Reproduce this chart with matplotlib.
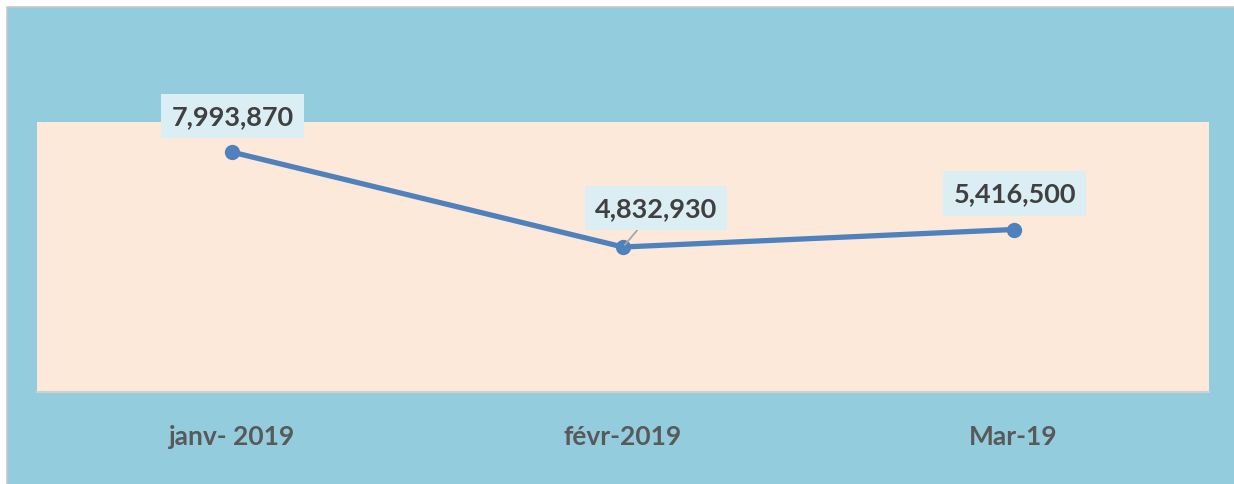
import matplotlib
matplotlib.use("Agg")
import matplotlib.pyplot as plt
from matplotlib.patches import Rectangle
from matplotlib.lines import Line2D

months = ["janv- 2019", "févr-2019", "Mar-19"]
values = [7993870, 4832930, 5416500]
label_offsets = [(0, 36), (33, 39), (1, 36)]   # pixels, label centre relative to point

OUTER = "#93CDDD"
PLOT_BG = "#FDE9D9"
LINE = "#4F81BD"
LABEL_BG = "#DAEEF3"

plt.rcParams["font.family"] = ["Lato", "DejaVu Sans"]

W, H = 1234, 485
fig = plt.figure(figsize=(W / 100, H / 100), dpi=100, facecolor=OUTER)
# white margin on the top and left of the screenshot, with the grey chart border
left, top = 7 / W, 1 - 8 / H
fig.patches.append(Rectangle((0, top), 1, 1 - top, transform=fig.transFigure,
                             facecolor="white", edgecolor="none", zorder=-5))
fig.patches.append(Rectangle((0, 0), left, 1, transform=fig.transFigure,
                             facecolor="white", edgecolor="none", zorder=-5))
fig.lines.append(Line2D([left, left, 1], [0, top, top], transform=fig.transFigure,
                        color="#C8C8C8", lw=1.2, zorder=-4))

ax = fig.add_axes([37 / W, (H - 393) / H, 1172 / W, 270 / H])
ax.set_facecolor(PLOT_BG)
x = list(range(len(months)))
ax.plot(x, values, color=LINE, lw=3.8, marker="o", ms=10, solid_capstyle="round", zorder=3)
ax.set_xlim(-0.5, len(months) - 0.5)
ax.set_ylim(0, 9_000_000)
ax.set_yticks([])
ax.set_xticks(x, labels=months, fontsize=19, fontweight="bold", color="#595959")
ax.tick_params(axis="x", length=0, pad=23)
for s in ["top", "left", "right"]:
    ax.spines[s].set_visible(False)
ax.spines["bottom"].set_color("#D0D0D0")
ax.spines["bottom"].set_linewidth(1.5)

for i, (v, off) in enumerate(zip(values, label_offsets)):
    arrow = None
    if i == 1:
        arrow = dict(arrowstyle="-", color="#A6A6A6", lw=1.3, shrinkA=0, shrinkB=2)
    ax.annotate(f"{v:,}", (i, v), xytext=off, textcoords="offset pixels",
                ha="center", va="center", fontsize=19.5, fontweight="bold", color="#404040",
                bbox=dict(boxstyle="square,pad=0.38", fc=LABEL_BG, ec="none"),
                arrowprops=arrow, zorder=4)

fig.savefig("out.png", dpi=100, facecolor=OUTER)
